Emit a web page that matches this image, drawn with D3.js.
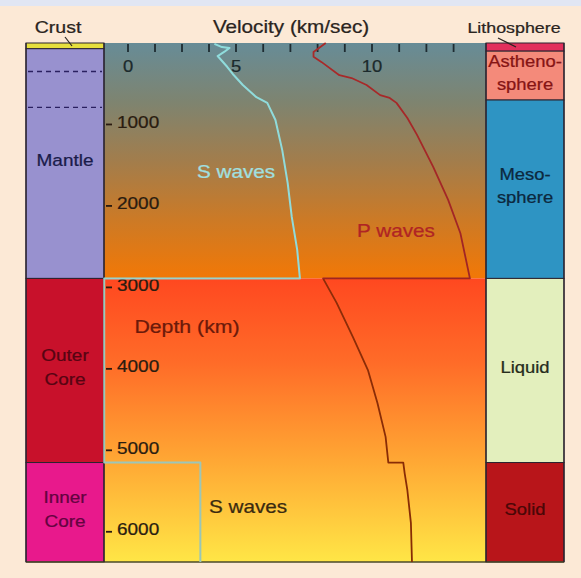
<!DOCTYPE html>
<html><head><meta charset="utf-8">
<script src="https://cdn.jsdelivr.net/npm/d3@7"></script>
<style>html,body{margin:0;padding:0;background:#fce9d6;} svg{display:block}</style>
</head><body><svg id="c" width="581" height="578"></svg>
<script>
// ---------- data ----------
const velTicks = [0, 1.25, 2.5, 3.75, 5, 6, 7, 8, 9, 10, 11, 12, 13];
const velLabels = [0, 5, 10];
const depthLabels = [1000, 2000, 3000, 4000, 5000, 6000];

// P-wave velocity (km/s) vs depth (km)
const pDepth = [0, 50, 110, 170, 235, 395, 430, 515, 640, 675, 735, 920, 1125, 1520, 1925, 2335, 2890,
                2890, 3190, 3610, 4015, 4420, 4835, 5150, 5150, 5280, 5490, 5890, 6371];
const pVel   = [8.3, 8.1, 7.85, 7.85, 8.15, 8.8, 9.25, 9.8, 10.3, 10.65, 10.9, 11.3, 11.65, 12.25, 12.8, 13.25, 13.6,
                8.2, 8.7, 9.3, 9.85, 10.2, 10.5, 10.6, 11.15, 11.2, 11.3, 11.43, 11.47];

// S-wave velocity (km/s) vs depth (km); in the outer core it runs along the left frame edge
const sDepth = [10, 50, 60, 110, 160, 295, 380, 515, 665, 735, 945, 1315, 1720, 2135, 2540, 2890,
                2890, 5150, 5150, 6371];
const sVel   = [4.0, 4.35, 4.7, 4.45, 4.15, 4.6, 4.85, 5.25, 5.75, 6.15, 6.45, 6.7, 6.9, 7.05, 7.25, 7.35,
                -1.1, -1.1, 3.35, 3.35];

// compositional layers (left bar)
const leftNames  = ["Crust", "Mantle", "Outer Core", "Inner Core"];
const leftTop    = [0, 70, 2890, 5150];
const leftBottom = [70, 2890, 5150, 6371];
const mantleDashes = [350, 790];

// mechanical layers (right bar)
const rightNames  = ["Lithosphere", "Astheno-sphere", "Meso-sphere", "Liquid", "Solid"];
const rightTop    = [0, 100, 700, 2890, 5150];
const rightBottom = [100, 700, 2890, 5150, 6371];

// ---------- styles ----------
const leftFill  = ["#e6df3e", "#9891cf", "#c8112b", "#e8198c"];
const leftText  = [null, "#1a1b4a", "#560412", "#640340"];
const rightFill = ["#e2305c", "#f48a7a", "#2e94c3", "#e3efbd", "#b8151a"];
const rightText = [null, "#861414", "#0c283e", "#262c1c", "#4a0707"];
const SX = 1.15;
const FONT = "'Liberation Sans', Arial, Helvetica, sans-serif";

// ---------- layout ----------
const W = 581, H = 578;
const plotL = 104, plotR = 486, leftBarL = 26, rightBarR = 564;
const topY = 43, bottomY = 562;

const svg = d3.select("#c");
const y = d3.scaleLinear().domain([0, 6371]).range([topY, bottomY]);
const x = d3.scaleLinear().domain([0, 5, 10]).range([128, 236, 372]);

svg.append("rect").attr("x", 0).attr("y", 0).attr("width", W).attr("height", H).attr("fill", "#fce9d6");
svg.append("rect").attr("x", 0).attr("y", 0).attr("width", W).attr("height", 6).attr("fill", "#e1e6f3");

const defs = svg.append("defs");
function grad(id, y1, y2, stops) {
  const g = defs.append("linearGradient").attr("id", id).attr("gradientUnits", "userSpaceOnUse")
    .attr("x1", 0).attr("x2", 0).attr("y1", y1).attr("y2", y2);
  stops.forEach(s => g.append("stop").attr("offset", s[0]).attr("stop-color", s[1]));
}
grad("mantleG", y(0), y(2890), [[0, "#678c97"], [0.25, "#7e8470"], [0.5, "#a27d4c"], [0.75, "#cc7a26"], [1, "#f27806"]]);
grad("coreG", y(2890), y(6371), [[0, "#ff4820"], [0.3, "#ff6c28"], [0.6, "#ffa032"], [1, "#ffe646"]]);
const fr = y(2890 + 5) / 1; // boundary just below core-mantle line
grad("pStroke", y(0), y(6371), [[0, "#a82a2a"], [(y(2890) - y(0)) / (y(6371) - y(0)), "#a02424"], [(y(2900) - y(0)) / (y(6371) - y(0)), "#8e2c08"], [1, "#862c04"]]);
grad("sStroke", y(0), y(6371), [[0, "#8fdcdc"], [(y(2885) - y(0)) / (y(6371) - y(0)), "#90dada"], [(y(2900) - y(0)) / (y(6371) - y(0)), "#a2c8bc"], [1, "#98c6b8"]]);

// plot background
svg.append("rect").attr("x", plotL).attr("y", y(0)).attr("width", plotR - plotL).attr("height", y(2890) - y(0)).attr("fill", "url(#mantleG)");
svg.append("rect").attr("x", plotL).attr("y", y(2890)).attr("width", plotR - plotL).attr("height", y(6371) - y(2890)).attr("fill", "url(#coreG)");

function label(s, px, py, size, color, anchor) {
  svg.append("text")
    .attr("transform", `translate(${px},${py}) scale(${SX},1)`)
    .attr("text-anchor", anchor || "middle")
    .attr("dominant-baseline", "central")
    .style("font-family", FONT).style("font-size", size + "px")
    .attr("fill", color).attr("stroke", color).attr("stroke-width", 0.25).text(s);
}

// left bar
leftNames.forEach((n, i) => {
  svg.append("rect").attr("x", leftBarL).attr("y", y(leftTop[i])).attr("width", plotL - leftBarL)
    .attr("height", y(leftBottom[i]) - y(leftTop[i])).attr("fill", leftFill[i])
    .attr("stroke", "#2b2430").attr("stroke-width", 1);
});
mantleDashes.forEach(d => {
  svg.append("line").attr("x1", leftBarL + 2).attr("x2", plotL - 2).attr("y1", y(d)).attr("y2", y(d))
    .attr("stroke", "#2a2060").attr("stroke-width", 1.3).attr("stroke-dasharray", "5,4");
});
leftNames.forEach((n, i) => {
  if (i === 0) return;
  const cy = (y(leftTop[i]) + y(leftBottom[i])) / 2 - 3;
  const parts = n.split(" ");
  const cx = (leftBarL + plotL) / 2;
  if (parts.length === 1) label(n, cx, cy, 16.5, leftText[i]);
  else { label(parts[0], cx, cy - 12, 16.5, leftText[i]); label(parts[1], cx, cy + 12, 16.5, leftText[i]); }
});

// right bar
rightNames.forEach((n, i) => {
  svg.append("rect").attr("x", plotR).attr("y", y(rightTop[i])).attr("width", rightBarR - plotR)
    .attr("height", y(rightBottom[i]) - y(rightTop[i])).attr("fill", rightFill[i])
    .attr("stroke", "#2b2430").attr("stroke-width", 1);
});
rightNames.forEach((n, i) => {
  if (i === 0) return;
  const cy = (y(rightTop[i]) + y(rightBottom[i])) / 2 - 3;
  const cx = (plotR + rightBarR) / 2;
  const k = n.indexOf("-");
  if (k < 0) label(n, cx, cy, 16, rightText[i]);
  else { label(n.slice(0, k + 1), cx, cy - 11.5, 16, rightText[i]); label(n.slice(k + 1), cx, cy + 11.5, 16, rightText[i]); }
});

// outer frame lines
svg.append("line").attr("x1", leftBarL).attr("x2", rightBarR).attr("y1", bottomY).attr("y2", bottomY)
  .attr("stroke", "#4a4a2a").attr("stroke-width", 1.5);
[leftBarL, plotL, plotR, rightBarR].forEach(xx => {
  svg.append("line").attr("x1", xx).attr("x2", xx).attr("y1", topY).attr("y2", bottomY)
    .attr("stroke", "#2b2430").attr("stroke-width", 1.3);
});

// velocity ticks (top, inward)
svg.append("g").selectAll("line").data(velTicks).join("line")
  .attr("x1", d => x(d)).attr("x2", d => x(d)).attr("y1", topY + 1).attr("y2", topY + 9)
  .attr("stroke", "#1e2c32").attr("stroke-width", 1.8);
velLabels.forEach(v => label(String(v), x(v), 66, 16, "#1c2a2c"));

// depth ticks
svg.append("g").selectAll("line").data(depthLabels).join("line")
  .attr("x1", plotL + 2).attr("x2", plotL + 8).attr("y1", d => y(d)).attr("y2", d => y(d))
  .attr("stroke", "#2a1a10").attr("stroke-width", 1.8);
depthLabels.forEach(d => label(String(d), plotL + 13, y(d) - 2, 16.5, "#2a1c10", "start"));

// curves
const line = d3.line().x(d => x(d[1])).y(d => y(d[0]));
svg.append("path").datum(pDepth.map((d, i) => [d, pVel[i]])).attr("d", line)
  .attr("fill", "none").attr("stroke", "url(#pStroke)").attr("stroke-width", 1.8).attr("stroke-linejoin", "round");
svg.append("path").datum(sDepth.map((d, i) => [d, sVel[i]])).attr("d", line)
  .attr("fill", "none").attr("stroke", "url(#sStroke)").attr("stroke-width", 2).attr("stroke-linejoin", "round");

// titles & annotations
label("Crust", 58, 27, 17, "#2a2420");
svg.append("line").attr("x1", 65).attr("y1", 37).attr("x2", 72).attr("y2", 46).attr("stroke", "#2a2420").attr("stroke-width", 1.2);
label("Velocity (km/sec)", 291, 27, 18, "#2a2420");
label("Lithosphere", 514, 28, 15.5, "#2a2420");
svg.append("line").attr("x1", 498).attr("y1", 38).attr("x2", 516).attr("y2", 47).attr("stroke", "#2a2420").attr("stroke-width", 1.2);
label("S waves", 236, 172, 18, "#a0e0e0");
label("P waves", 396, 231, 18, "#b02424");
label("Depth (km)", 187, 327, 18.5, "#6b1a0a");
label("S waves", 248, 507, 18, "#3a2a10");
</script></body></html>
